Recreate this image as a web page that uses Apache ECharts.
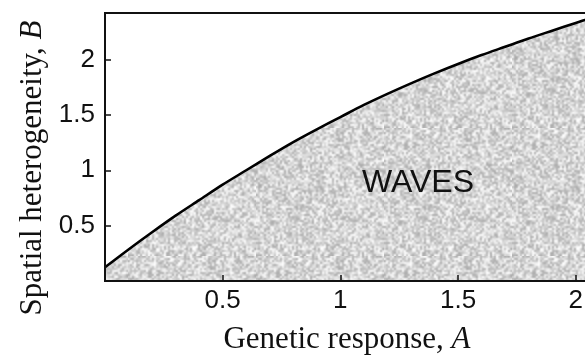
<!DOCTYPE html>
<html>
<head>
<meta charset="utf-8">
<script src="https://cdn.jsdelivr.net/npm/echarts@6/dist/echarts.min.js"></script>
<style>
html, body { margin: 0; padding: 0; background: #fff; }
#chart { width: 585px; height: 358px; }
</style>
</head>
<body>
<div id="chart"></div>
<script>
// boundary between the waves region (below) and no waves (above)
const geneticA = [0, 0.1, 0.2, 0.3, 0.4, 0.5, 0.6, 0.7, 0.8, 0.9, 1.0, 1.1, 1.2, 1.3, 1.4, 1.5, 1.6, 1.7, 1.8, 1.9, 2.0, 2.1, 2.15];
const spatialB = [0.124, 0.285, 0.44, 0.59, 0.73, 0.87, 1.0, 1.13, 1.255, 1.37, 1.48, 1.59, 1.69, 1.785, 1.875, 1.96, 2.04, 2.115, 2.19, 2.26, 2.33, 2.40, 2.43];
const xTickLabels = ['0.5', '1', '1.5', '2'];
const yTickLabels = ['0.5', '1', '1.5', '2'];
const regionLabel = 'WAVES';

// grey speckle texture for the shaded region (fixed seed so it's the same every time)
function speckle() {
    const n = 64, size = 128;
    const raw = document.createElement('canvas');
    raw.width = raw.height = n;
    const rctx = raw.getContext('2d');
    let s = 2463534242;
    const rnd = () => {
        s ^= s << 13; s >>>= 0;
        s ^= s >>> 17;
        s ^= s << 5; s >>>= 0;
        return s / 4294967296;
    };
    for (let y = 0; y < n; y++) {
        for (let x = 0; x < n; x++) {
            const v = Math.round(172 + rnd() * 83);
            rctx.fillStyle = 'rgb(' + v + ',' + v + ',' + v + ')';
            rctx.fillRect(x, y, 1, 1);
        }
    }
    const c = document.createElement('canvas');
    c.width = c.height = size;
    const ctx = c.getContext('2d');
    ctx.imageSmoothingEnabled = true;
    ctx.drawImage(raw, 0, 0, size, size);
    return c;
}

const chart = echarts.init(document.getElementById('chart'));

const tickFmt = (labels) => (v) => {
    const t = String(Math.round(v * 100) / 100);
    return labels.indexOf(t) >= 0 ? t : '';
};

const nameStyle = (pad) => ({
    fontFamily: 'Liberation Serif',
    fontSize: 31,
    color: '#111',
    padding: pad,
    rich: {
        i: { fontFamily: 'Liberation Serif', fontSize: 31, fontStyle: 'italic', color: '#111' },
    },
});

const option = {
    backgroundColor: '#fff',
    animation: false,
    grid: {
        left: 105,
        top: 13,
        bottom: 77,
        right: -26,
        containLabel: false,
        outerBoundsMode: 'none',
        show: true,
        borderColor: '#111',
        borderWidth: 2,
        backgroundColor: 'transparent',
    },
    xAxis: {
        type: 'value',
        min: 0,
        max: 2.15,
        interval: 0.5,
        z: 5,
        name: 'Genetic response, {i|A}',
        nameLocation: 'middle',
        nameGap: 43,
        nameTextStyle: nameStyle([0, 22, 0, 0]),
        axisLine: { show: true, onZero: false, lineStyle: { color: '#111', width: 2 } },
        axisTick: { show: true, inside: true, length: 6, lineStyle: { color: '#111', width: 1.5 } },
        axisLabel: {
            margin: 7,
            fontFamily: 'Liberation Sans',
            fontSize: 26,
            color: '#111',
            showMaxLabel: false,
            formatter: tickFmt(xTickLabels),
        },
        splitLine: { show: false },
    },
    yAxis: {
        type: 'value',
        min: 0,
        max: 2.42,
        interval: 0.5,
        z: 5,
        name: 'Spatial heterogeneity, {i|B}',
        nameLocation: 'middle',
        nameGap: 56,
        nameTextStyle: nameStyle([0, 42, 0, 0]),
        axisLine: { show: true, lineStyle: { color: '#111', width: 2 } },
        axisTick: { show: true, inside: true, length: 6, lineStyle: { color: '#111', width: 1.5 } },
        axisLabel: {
            margin: 10,
            fontFamily: 'Liberation Sans',
            fontSize: 26,
            color: '#111',
            showMaxLabel: false,
            formatter: tickFmt(yTickLabels),
        },
        splitLine: { show: false },
    },
    graphic: [{
        type: 'text',
        left: 362,
        top: 167,
        z: 10,
        style: {
            text: regionLabel,
            font: '32px "Liberation Sans"',
            fill: '#111',
        },
    }],
    series: [{
        type: 'line',
        data: geneticA.map((a, i) => [a, spatialB[i]]),
        smooth: 0.3,
        showSymbol: false,
        lineStyle: { color: '#000', width: 2.6 },
        areaStyle: {
            color: { image: speckle(), repeat: 'repeat' },
            opacity: 1,
        },
    }],
};

chart.setOption(option);
</script>
</body>
</html>
